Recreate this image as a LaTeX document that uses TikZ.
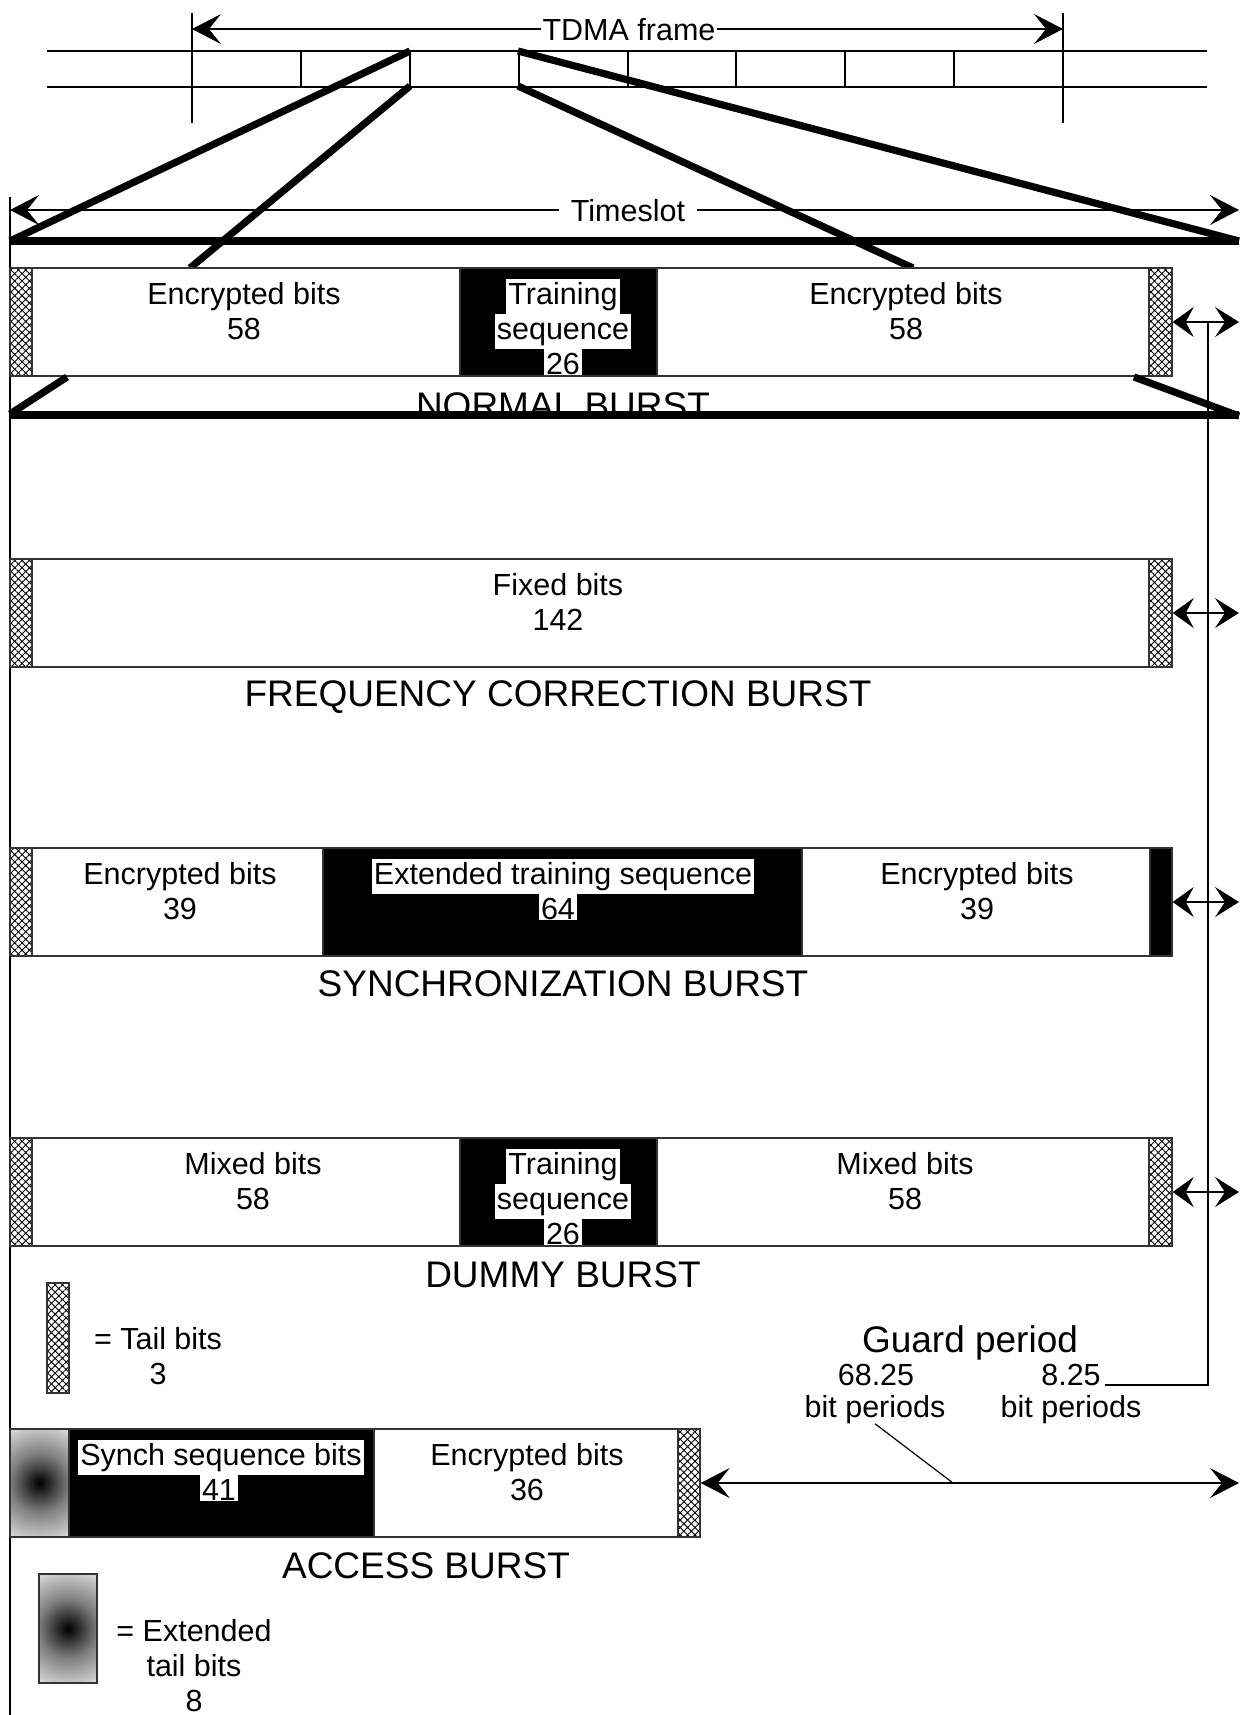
\documentclass[tikz,border=0pt]{standalone}
\usepackage{fontspec}
\setmainfont{Liberation Sans}
\usetikzlibrary{arrows.meta, patterns.meta, fit, positioning}
\pgfdeclareradialshading{xtailshade}{\pgfpoint{0bp}{0bp}}{color(0bp)=(black); color(2bp)=(black!92); color(12bp)=(black!50); color(22bp)=(black!22); color(25bp)=(black!12); color(50bp)=(black!12)}
\tikzstyle{hair} = [line width=0.6pt]
\tikzstyle{fat} = [line width=3.6pt]
\tikzstyle{burst} = [draw=black!80, line width=0.7pt, inner sep=0pt]
\tikzstyle{cell} = [draw=black!80, line width=0.7pt, fill=white]
\tikzstyle{tail} = [draw=black!80, line width=0.7pt, pattern={Hatch[angle=45, distance=2.6pt, line width=0.45pt]}]
\tikzstyle{xtail} = [draw=black!80, line width=0.7pt, path picture={\shade[shading=xtailshade] (path picture bounding box.center) circle (62);}]
\tikzstyle{blk} = [draw=black!80, line width=0.7pt, fill=black]
\tikzstyle{txt} = [font=\fontsize{15.25}{17.5}\selectfont, inner sep=0pt, align=center, anchor=base]
\tikzstyle{wtxt} = [txt, fill=white, inner xsep=1pt, inner ysep=0pt, text height=12.5pt, text depth=5pt]
\tikzstyle{title} = [font=\fontsize{18.5}{22}\selectfont, inner sep=0pt, anchor=base]
\tikzstyle{spanarrow} = [hair, {Stealth[length=14.5pt, width=15pt, inset=6pt]}-{Stealth[length=14.5pt, width=15pt, inset=6pt]}]
\tikzstyle{guard} = [hair, {Stealth[length=10.5pt, width=15pt, inset=4pt]}-{Stealth[length=12pt, width=15pt, inset=5pt]}]

\begin{document}
\begin{tikzpicture}[x=0.5pt, y=-0.5pt]
	\useasboundingbox (0,0) rectangle (1239,1715);

	% TDMA frame
	\draw [hair] (47,51) -- (1207,51) (47,87) -- (1207,87);
	\draw [hair] (192,13) -- (192,123) (1063,13) -- (1063,123);
	\draw [hair] (301,51) -- (301,87) (410,51) -- (410,87) (519,51) -- (519,87) (628,51) -- (628,87)
		(736,51) -- (736,87) (845,51) -- (845,87) (954,51) -- (954,87);
	\coordinate (tdmal) at (192,29);
	\coordinate (tdmar) at (1063,29);
	\draw [spanarrow] (tdmal) -- (tdmar);
	\node (tdma) [txt, anchor=center, fill=white, inner xsep=1pt, text height=11pt, text depth=0pt] at (629,29) {TDMA frame};

	% Timeslot
	\coordinate (tsl) at (10,210);
	\coordinate (tsr) at (1239,210);
	\coordinate (edge) at (1239,0);
	\draw [spanarrow] (tsl) -- (tsr);
	\node (ts) [txt, anchor=center, fill=white, inner xsep=6pt, text height=11pt, text depth=0pt] at (628,210) {Timeslot};
	\draw [hair] (10,197) -- (10,1715);

	% Slot opened out to a timeslot
	\coordinate (s1) at (410,51);
	\coordinate (s2) at (518,51);
	\coordinate (s3) at (410,86);
	\coordinate (s4) at (518,86);
	\coordinate (c1) at (10,241);
	\coordinate (c2) at (1239,241);
	\draw [fat] (s1) -- (c1);
	\draw [fat] (c1) -- (c2);
	\draw [fat] (s2) -- (c2);
	\draw [fat] (s3) -- (190,268);
	\draw [fat] (s4) -- (913,268);

	% Normal burst
	\draw [tail] (10,268) rectangle (32,376);
	\draw [cell] (32,268) rectangle (460,376);
	\draw [blk] (460,268) rectangle (657,376);
	\draw [cell] (657,268) rectangle (1149,376);
	\draw [tail] (1149,268) rectangle (1172,376);
	\node (normal) [burst, fit={(10,268) (1172,376)}] {};
	\node (nb1) [txt] at (244,339) {Encrypted bits\\58};
	\node (nb2) [wtxt] at (563,304) {Training};
	\node (nb3) [wtxt] at (563,339) {sequence};
	\node (nb4) [wtxt, text depth=0.5pt] at (563,374) {26};
	\node (nb5) [txt] at (906,339) {Encrypted bits\\58};
	\node (nbt) [title] at (563,418) {NORMAL BURST};
	\draw [fat] (67,377) -- (10,414);
	\draw [fat] (10,415) -- (1239,415);
	\draw [fat] (1134,377) -- (1239,416);
	\draw [guard] (normal.east) -- (normal.east -| edge);

	% Frequency correction burst
	\draw [tail] (10,559) rectangle (32,667);
	\draw [cell] (32,559) rectangle (1149,667);
	\draw [tail] (1149,559) rectangle (1172,667);
	\node (freq) [burst, fit={(10,559) (1172,667)}] {};
	\node (fc1) [txt] at (558,630) {Fixed bits\\142};
	\node (fct) [title] at (558,706) {FREQUENCY CORRECTION BURST};
	\draw [guard] (freq.east) -- (freq.east -| edge);

	% Synchronization burst
	\draw [tail] (10,848) rectangle (32,956);
	\draw [cell] (32,848) rectangle (323,956);
	\draw [blk] (323,848) rectangle (802,956);
	\draw [cell] (802,848) rectangle (1150,956);
	\draw [blk] (1150,848) rectangle (1172,956);
	\node (sync) [burst, fit={(10,848) (1172,956)}] {};
	\node (sb1) [txt] at (180,919) {Encrypted bits\\39};
	\node (sb2) [wtxt] at (563,884) {Extended training sequence};
	\node (sb3) [wtxt, text depth=0.5pt] at (558,919) {64};
	\node (sb4) [txt] at (977,919) {Encrypted bits\\39};
	\node (sbt) [title] at (563,996) {SYNCHRONIZATION BURST};
	\draw [guard] (sync.east) -- (sync.east -| edge);

	% Dummy burst
	\draw [tail] (10,1138) rectangle (32,1246);
	\draw [cell] (32,1138) rectangle (460,1246);
	\draw [blk] (460,1138) rectangle (657,1246);
	\draw [cell] (657,1138) rectangle (1149,1246);
	\draw [tail] (1149,1138) rectangle (1172,1246);
	\node (dummy) [burst, fit={(10,1138) (1172,1246)}] {};
	\node (db1) [txt] at (253,1209) {Mixed bits\\58};
	\node (db2) [wtxt] at (563,1174) {Training};
	\node (db3) [wtxt] at (563,1209) {sequence};
	\node (db4) [wtxt, text depth=0.5pt] at (563,1244) {26};
	\node (db5) [txt] at (905,1209) {Mixed bits\\58};
	\node (dbt) [title] at (563,1287) {DUMMY BURST};
	\draw [guard] (dummy.east) -- (dummy.east -| edge);

	% Tail bits key
	\draw [tail] (47,1283) rectangle (69,1393);
	\node (tkey) [txt] at (158,1384) {= Tail bits\\3};

	% Access burst
	\path [xtail] (10,1429) rectangle (69,1537);
	\draw [blk] (69,1429) rectangle (374,1537);
	\draw [cell] (374,1429) rectangle (678,1537);
	\draw [tail] (678,1429) rectangle (700,1537);
	\node (access) [burst, fit={(10,1429) (700,1537)}] {};
	\node (ab1) [wtxt] at (221,1465) {Synch sequence bits};
	\node (ab2) [wtxt, text depth=0.5pt] at (219,1500) {41};
	\node (ab3) [txt] at (527,1500) {Encrypted bits\\36};
	\node (abt) [title] at (426,1578) {ACCESS BURST};
	\draw [spanarrow] (access.east) -- (access.east -| edge);

	% Guard period
	\node (gp) [title] at (970,1352) {Guard period};
	\node (g68) [txt] at (876,1385) {68.25};
	\node (bp1) [txt] at (875,1417) {bit periods};
	\node (g825) [txt] at (1071,1385) {8.25};
	\node (bp2) [txt] at (1071,1417) {bit periods};
	\coordinate (gx) at (1208,0);
	\coordinate (gq) at (953,0);
	\draw [hair] (normal.east -| gx) |- ([xshift=2pt]g825.base east);
	\draw [hair] (bp1.south) -- (access.east -| gq);

	% Extended tail bits key
	\path [xtail] (39,1574) rectangle (97,1683);
	\node (xkey) [txt] at (194,1711) {= Extended\\tail bits\\8};

\end{tikzpicture}
\end{document}
